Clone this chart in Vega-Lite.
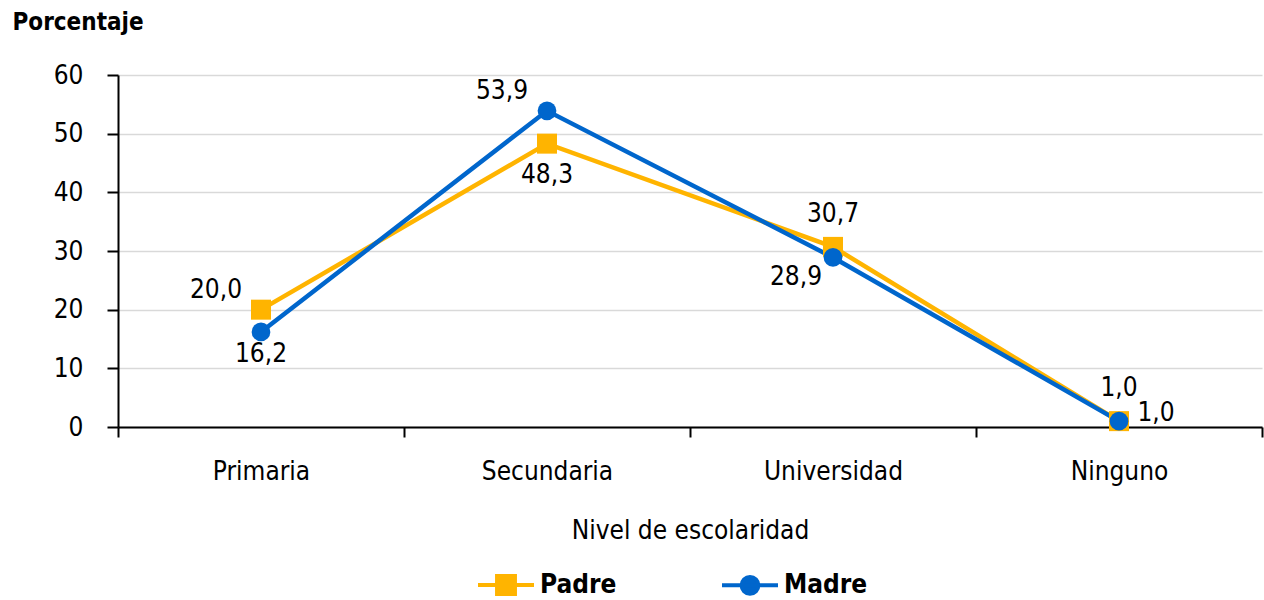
{
  "$schema": "https://vega.github.io/schema/vega-lite/v6.json",
  "width": 1144,
  "height": 352,
  "autosize": "none",
  "padding": {"left": 118, "top": 75, "right": 2, "bottom": 173},
  "config": {
    "font": "Liberation Sans Narrow, DejaVu Sans Condensed, sans-serif",
    "view": {"stroke": null},
    "locale": {"number": {"decimal": ",", "thousands": ".", "grouping": [3], "currency": ["", ""]}}
  },
  "data": {
    "values": [
      {"nivel": "Primaria", "serie": "Padre", "valor": 20.0},
      {"nivel": "Secundaria", "serie": "Padre", "valor": 48.3},
      {"nivel": "Universidad", "serie": "Padre", "valor": 30.7},
      {"nivel": "Ninguno", "serie": "Padre", "valor": 1.0},
      {"nivel": "Primaria", "serie": "Madre", "valor": 16.2},
      {"nivel": "Secundaria", "serie": "Madre", "valor": 53.9},
      {"nivel": "Universidad", "serie": "Madre", "valor": 28.9},
      {"nivel": "Ninguno", "serie": "Madre", "valor": 1.0}
    ]
  },
  "encoding": {
    "x": {
      "field": "nivel",
      "type": "nominal",
      "sort": ["Primaria", "Secundaria", "Universidad", "Ninguno"],
      "scale": {"type": "band", "paddingInner": 0, "paddingOuter": 0},
      "axis": {
        "title": "Nivel de escolaridad",
        "titleFontSize": 26,
        "titleFontWeight": "normal",
        "titleColor": "black",
        "titleY": 103,
        "titleBaseline": "middle",
        "labelFontSize": 26,
        "labelColor": "black",
        "labelAngle": 0,
        "labelPadding": 21,
        "tickBand": "extent",
        "tickSize": 10,
        "tickColor": "black",
        "tickWidth": 2,
        "domainColor": "black",
        "domainWidth": 2,
        "grid": false
      }
    },
    "y": {
      "field": "valor",
      "type": "quantitative",
      "scale": {"domain": [0, 60], "nice": false},
      "axis": {
        "title": "Porcentaje",
        "titleAngle": 0,
        "titleAlign": "left",
        "titleBaseline": "middle",
        "titleX": -106,
        "titleY": -53,
        "titleFontSize": 24,
        "titleFontWeight": "bold",
        "titleColor": "black",
        "values": [0, 10, 20, 30, 40, 50, 60],
        "format": "d",
        "labelFontSize": 26,
        "labelColor": "black",
        "labelPadding": 24,
        "tickSize": 11,
        "tickColor": "black",
        "tickWidth": 2,
        "domainColor": "black",
        "domainWidth": 2,
        "gridColor": "#D9D9D9",
        "gridWidth": 1.5
      }
    }
  },
  "layer": [
    {
      "mark": {"type": "line", "strokeWidth": 4.5},
      "encoding": {
        "color": {
          "field": "serie",
          "type": "nominal",
          "scale": {"domain": ["Padre", "Madre"], "range": ["#FFB400", "#0066CC"]},
          "legend": {
            "orient": "none",
            "legendX": 358,
            "legendY": 480,
            "title": null,
            "direction": "horizontal",
            "symbolType": "M-1,0H1M-0.32,-0.32H0.32V0.32H-0.32Z",
            "symbolSize": 3136,
            "symbolStrokeWidth": 4,
            "labelFontSize": 26,
            "labelFontWeight": "bold",
            "labelColor": "black",
            "labelOffset": 4,
            "columnPadding": 97,
            "encode": {
              "symbols": {
                "update": {
                  "shape": {"signal": "datum.value === 'Padre' ? 'M-1,0H1M-0.32,-0.32H0.32V0.32H-0.32Z' : 'M-1,0H1M0.3,0A0.3,0.3 0 1,1 -0.3,0A0.3,0.3 0 1,1 0.3,0Z'"},
                  "fill": {"scale": "color", "field": "value"},
                  "stroke": {"scale": "color", "field": "value"},
                  "strokeWidth": {"value": 4},
                  "opacity": {"value": 1}
                }
              }
            }
          }
        }
      }
    },
    {
      "transform": [{"filter": "datum.serie === 'Padre'"}],
      "mark": {"type": "point", "shape": "square", "filled": true, "size": 400, "opacity": 1, "color": "#FFB400"}
    },
    {
      "transform": [{"filter": "datum.serie === 'Madre'"}],
      "mark": {"type": "point", "shape": "circle", "filled": true, "size": 350, "opacity": 1, "color": "#0066CC"}
    },
    {
      "transform": [{"filter": "(datum.serie === 'Padre' && datum.nivel === 'Primaria') || (datum.serie === 'Madre' && datum.nivel === 'Secundaria')"}],
      "mark": {"type": "text", "fontSize": 26, "color": "black", "baseline": "middle", "align": "center", "dx": -45, "dy": -20},
      "encoding": {"text": {"field": "valor", "type": "quantitative", "format": ".1f"}}
    },
    {
      "transform": [{"filter": "datum.serie === 'Madre' && datum.nivel === 'Primaria'"}],
      "mark": {"type": "text", "fontSize": 26, "color": "black", "baseline": "middle", "align": "center", "dx": 0, "dy": 22},
      "encoding": {"text": {"field": "valor", "type": "quantitative", "format": ".1f"}}
    },
    {
      "transform": [{"filter": "datum.serie === 'Padre' && datum.nivel === 'Secundaria'"}],
      "mark": {"type": "text", "fontSize": 26, "color": "black", "baseline": "middle", "align": "center", "dx": 0, "dy": 31},
      "encoding": {"text": {"field": "valor", "type": "quantitative", "format": ".1f"}}
    },
    {
      "transform": [{"filter": "(datum.serie === 'Padre' && datum.nivel === 'Universidad') || (datum.serie === 'Madre' && datum.nivel === 'Ninguno')"}],
      "mark": {"type": "text", "fontSize": 26, "color": "black", "baseline": "middle", "align": "center", "dx": 0, "dy": -33},
      "encoding": {"text": {"field": "valor", "type": "quantitative", "format": ".1f"}}
    },
    {
      "transform": [{"filter": "datum.serie === 'Madre' && datum.nivel === 'Universidad'"}],
      "mark": {"type": "text", "fontSize": 26, "color": "black", "baseline": "middle", "align": "center", "dx": -37, "dy": 20},
      "encoding": {"text": {"field": "valor", "type": "quantitative", "format": ".1f"}}
    },
    {
      "transform": [{"filter": "datum.serie === 'Padre' && datum.nivel === 'Ninguno'"}],
      "mark": {"type": "text", "fontSize": 26, "color": "black", "baseline": "middle", "align": "center", "dx": 37, "dy": -8},
      "encoding": {"text": {"field": "valor", "type": "quantitative", "format": ".1f"}}
    }
  ]
}
